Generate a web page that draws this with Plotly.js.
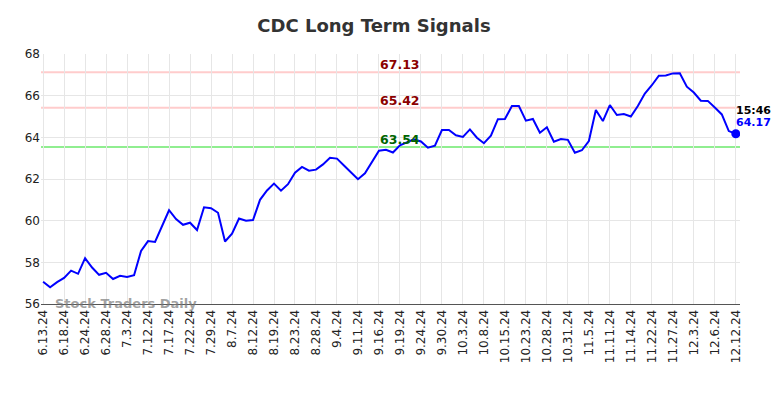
<!DOCTYPE html>
<html>
<head>
<meta charset="utf-8">
<script src="https://cdn.plot.ly/plotly-3.0.1.min.js"></script>
<style>html,body{margin:0;padding:0;background:#fff;}#chart{width:784px;height:398px;}</style>
</head>
<body>
<div id="chart"></div>
<script>
const dates = ["6.13.24","6.14.24","6.17.24","6.18.24","6.20.24","6.21.24","6.24.24","6.25.24","6.26.24","6.28.24",
"7.1.24","7.2.24","7.3.24","7.5.24","7.9.24","7.12.24","7.15.24","7.16.24","7.17.24","7.18.24",
"7.19.24","7.22.24","7.23.24","7.26.24","7.29.24","7.31.24","8.5.24","8.7.24","8.8.24","8.9.24",
"8.12.24","8.13.24","8.15.24","8.19.24","8.20.24","8.22.24","8.23.24","8.26.24","8.27.24","8.28.24",
"8.29.24","8.30.24","9.4.24","9.5.24","9.6.24","9.11.24","9.12.24","9.13.24","9.16.24","9.17.24",
"9.18.24","9.19.24","9.20.24","9.23.24","9.24.24","9.25.24","9.26.24","9.30.24","10.1.24","10.2.24",
"10.3.24","10.4.24","10.7.24","10.8.24","10.10.24","10.11.24","10.15.24","10.17.24","10.21.24","10.23.24",
"10.24.24","10.25.24","10.28.24","10.29.24","10.30.24","10.31.24","11.1.24","11.4.24","11.5.24","11.6.24",
"11.8.24","11.11.24","11.12.24","11.13.24","11.14.24","11.18.24","11.20.24","11.22.24","11.25.24","11.26.24",
"11.27.24","11.29.24","12.2.24","12.3.24","12.4.24","12.5.24","12.6.24","12.10.24","12.11.24","12.12.24"];

const prices = [57.07,56.80,57.05,57.25,57.60,57.45,58.20,57.75,57.40,57.50,
57.20,57.35,57.30,57.38,58.55,59.02,58.98,59.70,60.50,60.08,
59.80,59.90,59.55,60.64,60.60,60.38,59.00,59.38,60.10,60.00,
60.03,61.00,61.45,61.78,61.44,61.75,62.30,62.58,62.40,62.45,
62.70,63.02,62.98,62.65,62.30,61.99,62.27,62.80,63.36,63.40,
63.27,63.62,63.76,63.90,63.80,63.50,63.60,64.35,64.35,64.10,
64.02,64.38,63.98,63.72,64.08,64.87,64.88,65.50,65.50,64.80,
64.88,64.22,64.48,63.79,63.92,63.88,63.26,63.38,63.82,65.31,
64.78,65.55,65.07,65.12,65.00,65.50,66.10,66.50,66.96,66.97,
67.07,67.08,66.43,66.15,65.76,65.75,65.43,65.10,64.30,64.17];

const tickDates = ["6.13.24","6.18.24","6.24.24","6.28.24","7.3.24","7.12.24","7.17.24","7.22.24","7.29.24","8.7.24",
"8.12.24","8.19.24","8.23.24","8.28.24","9.4.24","9.11.24","9.16.24","9.19.24","9.24.24","9.30.24",
"10.3.24","10.8.24","10.15.24","10.23.24","10.28.24","10.31.24","11.5.24","11.11.24","11.14.24","11.22.24",
"11.27.24","12.3.24","12.6.24","12.12.24"];

const resistanceLevels = [67.13, 65.42];
const supportLevels = [63.54];
const lastTime = "15:46";
const yTicks = [56,58,60,62,64,66,68];

const lastDate = dates[dates.length-1];
const lastPrice = prices[prices.length-1];
const labelDate = dates[51];

const traces = [
  {x: dates, y: prices, type: 'scatter', mode: 'lines', line: {color: '#0000ff', width: 2}, hoverinfo: 'skip'},
  {x: [lastDate], y: [lastPrice], type: 'scatter', mode: 'markers', marker: {color: '#0000ff', size: 9}, hoverinfo: 'skip'}
];

const shapes = [];
const annotations = [];
resistanceLevels.forEach(v => {
  shapes.push({type: 'line', xref: 'paper', x0: 0, x1: 1, yref: 'y', y0: v, y1: v, line: {color: '#ffcccc', width: 2}, layer: 'below'});
  annotations.push({x: labelDate, y: v, xref: 'x', yref: 'y', text: '<b>' + v.toFixed(2) + '</b>', showarrow: false, yanchor: 'bottom', yshift: -2, font: {family: 'DejaVu Sans', size: 12.5, color: '#8b0000'}});
});
supportLevels.forEach(v => {
  shapes.push({type: 'line', xref: 'paper', x0: 0, x1: 1, yref: 'y', y0: v, y1: v, line: {color: '#90ee90', width: 2}, layer: 'below'});
  annotations.push({x: labelDate, y: v, xref: 'x', yref: 'y', text: '<b>' + v.toFixed(2) + '</b>', showarrow: false, yanchor: 'bottom', yshift: -2, font: {family: 'DejaVu Sans', size: 12.5, color: '#006400'}});
});
annotations.push({x: lastDate, y: lastPrice, xref: 'x', yref: 'y', text: '<b>' + lastTime + '</b>', showarrow: false, xanchor: 'left', yanchor: 'middle', yshift: 23, xshift: -2, font: {family: 'DejaVu Sans', size: 11, color: '#000000'}});
annotations.push({x: lastDate, y: lastPrice, xref: 'x', yref: 'y', text: '<b>' + lastPrice.toFixed(2) + '</b>', showarrow: false, xanchor: 'left', yanchor: 'middle', yshift: 11, xshift: -2, font: {family: 'DejaVu Sans', size: 11, color: '#0000ff'}});
annotations.push({x: 0.017, y: 0, xref: 'paper', yref: 'paper', text: '<b>Stock Traders Daily</b>', showarrow: false, xanchor: 'left', yanchor: 'middle', yshift: 1, font: {family: 'DejaVu Sans', size: 13, color: 'rgba(120,120,120,0.7)'}});

const layout = {
  width: 784, height: 398,
  margin: {l: 41, r: 44, t: 54, b: 94},
  paper_bgcolor: '#ffffff', plot_bgcolor: '#ffffff',
  showlegend: false,
  title: {text: '<b>CDC Long Term Signals</b>', x: 0.477, xanchor: 'center', y: 0.935, yanchor: 'middle', font: {family: 'DejaVu Sans', size: 18, color: '#333333'}},
  xaxis: {type: 'category', categoryorder: 'array', categoryarray: dates, range: [-0.3, 99.6],
    tickmode: 'array', tickvals: tickDates, ticktext: tickDates, tickangle: -90,
    tickfont: {family: 'DejaVu Sans', size: 12, color: '#222'},
    showgrid: true, gridcolor: '#e6e6e6', gridwidth: 1,
    showline: true, linecolor: '#555555', linewidth: 1, ticks: '', zeroline: false, fixedrange: true},
  yaxis: {range: [56, 68], tickmode: 'array', tickvals: yTicks, ticktext: yTicks.map(String),
    tickfont: {family: 'DejaVu Sans', size: 12, color: '#222'},
    showgrid: true, gridcolor: '#e6e6e6', gridwidth: 1, zeroline: false, showline: false, ticks: '', fixedrange: true},
  shapes: shapes,
  annotations: annotations
};

Plotly.newPlot('chart', traces, layout, {displayModeBar: false, staticPlot: true});
</script>
</body>
</html>
